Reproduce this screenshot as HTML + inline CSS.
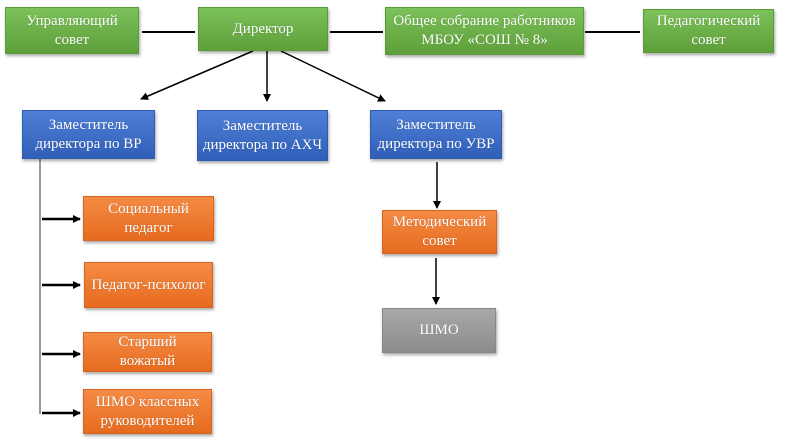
<!DOCTYPE html>
<html><head><meta charset="utf-8"><style>
body{margin:0;width:790px;height:440px;background:#fff;position:relative;overflow:hidden;font-family:"Liberation Serif","Noto Serif CJK SC",serif;}
.b{position:absolute;display:flex;align-items:center;justify-content:center;text-align:center;color:#fff;font-size:15px;line-height:19px;box-shadow:1px 2px 3px rgba(0,0,0,.35);box-sizing:border-box;text-shadow:0 0 1px rgba(0,0,0,.25);}
.g{background:linear-gradient(#7cc15a,#5e9f3a);border:1px solid #5a9a38;}
.u{background:linear-gradient(#4f7fd6,#2f5fb8);border:1px solid #2e5cb0;}
.o{background:linear-gradient(#f58b45,#e66b1e);border:1px solid #d8651f;}
.s{background:linear-gradient(#a8a8a8,#8c8c8c);border:1px solid #888;}
svg{position:absolute;left:0;top:0}
</style></head><body>
<svg width="790" height="440">
<defs><marker id="a" markerWidth="8" markerHeight="8" refX="7" refY="4" orient="auto" markerUnits="userSpaceOnUse"><path d="M0,0 L8,4 L0,8 z" fill="#000"/></marker></defs>
<g stroke="#000" stroke-width="2">
<line x1="142" y1="32" x2="195" y2="32"/>
<line x1="330" y1="32" x2="383" y2="32"/>
<line x1="585" y1="32" x2="640" y2="32"/>
</g>
<g stroke="#000" stroke-width="1.5">
<line x1="253" y1="51" x2="141" y2="99" marker-end="url(#a)"/>
<line x1="267" y1="51" x2="267" y2="101" marker-end="url(#a)"/>
<line x1="281" y1="51" x2="385" y2="101" marker-end="url(#a)"/>
<line x1="437" y1="162" x2="437" y2="208" marker-end="url(#a)"/>
<line x1="436" y1="258" x2="436" y2="304" marker-end="url(#a)"/>
</g>
<line x1="40" y1="159" x2="40" y2="414" stroke="#333" stroke-width="1"/>
<g stroke="#000" stroke-width="2.5">
<line x1="42" y1="219" x2="80" y2="219" marker-end="url(#a)"/>
<line x1="42" y1="285" x2="80" y2="285" marker-end="url(#a)"/>
<line x1="42" y1="354" x2="80" y2="354" marker-end="url(#a)"/>
<line x1="42" y1="413" x2="80" y2="413" marker-end="url(#a)"/>
</g>
</svg>
<div class="b g" style="left:5px;top:7px;width:134px;height:47px">Управляющий<br>совет</div>
<div class="b g" style="left:198px;top:7px;width:130px;height:44px">Директор</div>
<div class="b g" style="left:385px;top:7px;width:199px;height:48px">Общее собрание работников<br>МБОУ «СОШ № 8»</div>
<div class="b g" style="left:643px;top:9px;width:131px;height:44px">Педагогический<br>совет</div>
<div class="b u" style="left:22px;top:110px;width:133px;height:49px">Заместитель<br>директора по ВР</div>
<div class="b u" style="left:197px;top:110px;width:131px;height:51px">Заместитель<br>директора по АХЧ</div>
<div class="b u" style="left:370px;top:110px;width:132px;height:49px">Заместитель<br>директора по УВР</div>
<div class="b o" style="left:83px;top:196px;width:131px;height:45px">Социальный<br>педагог</div>
<div class="b o" style="left:84px;top:262px;width:129px;height:46px">Педагог-психолог</div>
<div class="b o" style="left:83px;top:332px;width:129px;height:40px">Старший<br>вожатый</div>
<div class="b o" style="left:83px;top:389px;width:129px;height:45px">ШМО классных<br>руководителей</div>
<div class="b o" style="left:382px;top:210px;width:115px;height:44px">Методический<br>совет</div>
<div class="b s" style="left:382px;top:308px;width:114px;height:45px">ШМО</div>
</body></html>
